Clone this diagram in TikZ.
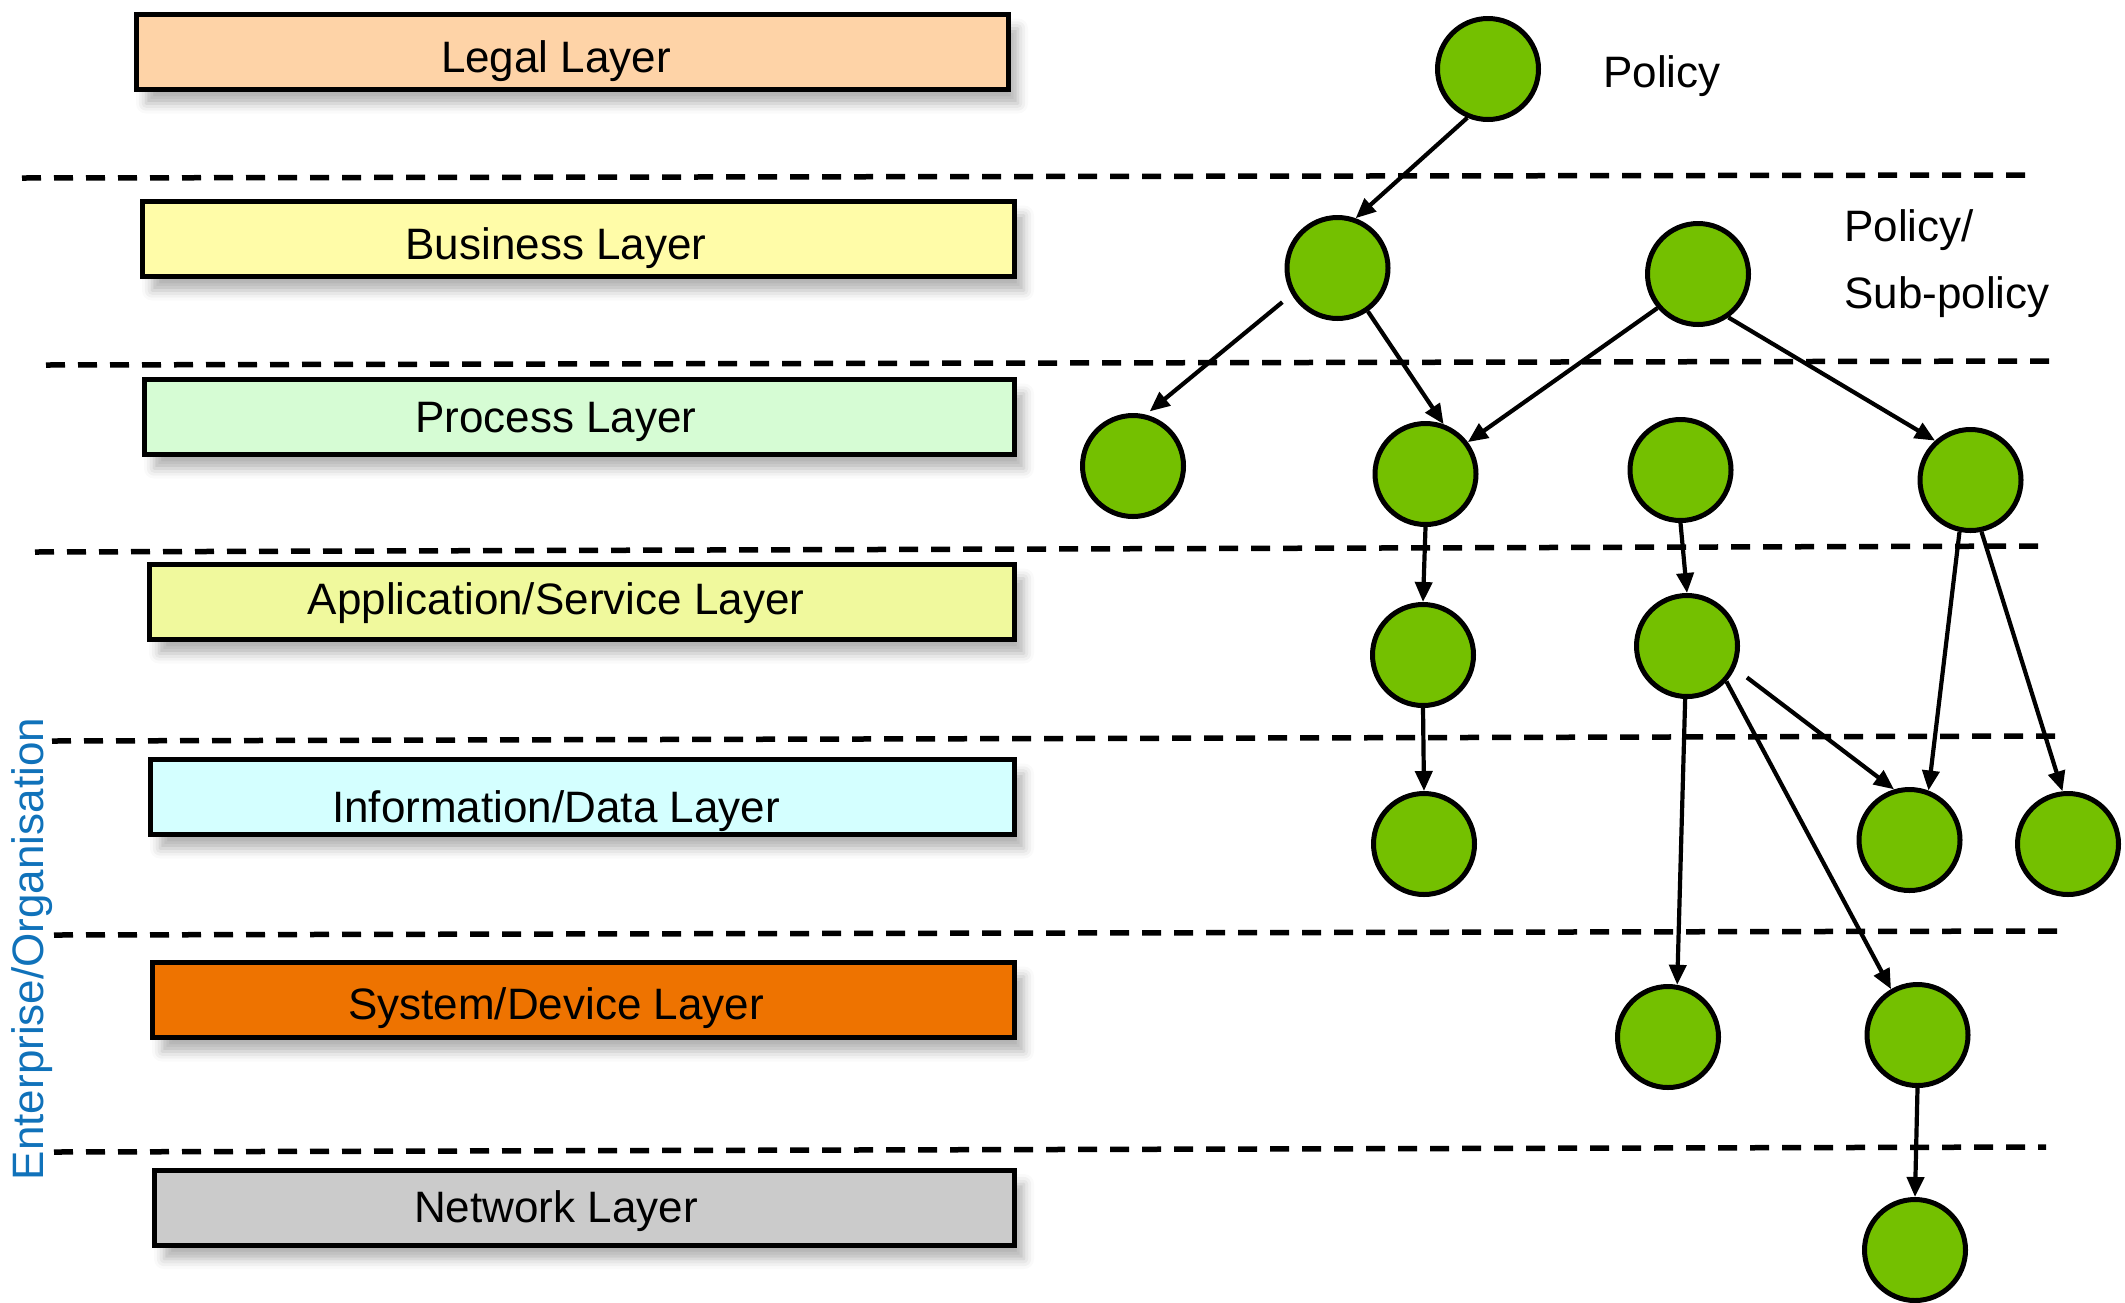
\documentclass[tikz,border=0pt]{standalone}
\usepackage{fontspec}
\setmainfont{Liberation Sans}
\usetikzlibrary{arrows.meta,shadows.blur}

\definecolor{legalfill}{RGB}{254,211,167}
\definecolor{busfill}{RGB}{255,252,168}
\definecolor{procfill}{RGB}{214,252,212}
\definecolor{appfill}{RGB}{240,249,157}
\definecolor{infofill}{RGB}{212,255,255}
\definecolor{sysfill}{RGB}{238,115,0}
\definecolor{netfill}{RGB}{203,203,203}
\definecolor{nodegreen}{RGB}{116,192,0}
\definecolor{orgblue}{RGB}{16,114,186}

\tikzset{
  layerbox/.style={draw=black, line width=5pt, rectangle, minimum height=75pt,
    inner sep=0pt,
    blur shadow={shadow xshift=10pt, shadow yshift=-14pt,
      shadow blur radius=10pt, shadow opacity=30}},
  layertext/.style={anchor=base, inner sep=0pt,
    font=\fontsize{44}{53}\selectfont},
  plabel/.style={anchor=base west, inner sep=0pt,
    font=\fontsize{44}{53}\selectfont},
  pnode/.style={circle, draw=black, line width=5pt, fill=nodegreen,
    minimum size=101pt, inner sep=0pt},
  sep/.style={draw=black, line width=5.5pt, dash pattern=on 19pt off 13pt},
  flow/.style={draw=black, line width=4.2pt,
    -{Triangle[length=20pt,width=17pt]}}
}

\begin{document}
\begin{tikzpicture}[x=1pt,y=-1pt]
\useasboundingbox (0,0) rectangle (2125,1302);

% layer separators
\draw[sep] (22,178) -- (2037,175);
\draw[sep] (46,365) -- (2060,361);
\draw[sep] (35,552) -- (2049,546);
\draw[sep] (52,741) -- (2067,736);
\draw[sep] (54,935) -- (2069,931);
\draw[sep] (54,1152) -- (2046,1147);

% layer boxes
\node[layerbox, fill=legalfill, minimum width=872pt] (legal) at (572,52) {};
\node[layerbox, fill=busfill,   minimum width=872pt] (business) at (578,239) {};
\node[layerbox, fill=procfill,  minimum width=870pt] (process) at (579,417) {};
\node[layerbox, fill=appfill,   minimum width=865pt] (application) at (581.5,602) {};
\node[layerbox, fill=infofill,  minimum width=864pt] (information) at (582,797) {};
\node[layerbox, fill=sysfill,   minimum width=862pt] (system) at (583,1000) {};
\node[layerbox, fill=netfill,   minimum width=860pt] (network) at (584,1207.5) {};

\node[layertext] (legal-t) at (556,72) {Legal Layer};
\node[layertext] (business-t) at (556,259) {Business Layer};
\node[layertext] (process-t) at (556,432) {Process Layer};
\node[layertext] (application-t) at (556,614) {Application/Service Layer};
\node[layertext] (information-t) at (556,822) {Information/Data Layer};
\node[layertext] (system-t) at (556,1019) {System/Device Layer};
\node[layertext] (network-t) at (556,1222) {Network Layer};

% side caption
\node[rotate=90, inner sep=0pt, text=orgblue,
  font=\fontsize{44}{53}\selectfont] (org) at (32,949) {Enterprise/Organisation};

% policy labels
\node[plabel] (policy-l) at (1603,87) {Policy};
\node[plabel] (sub-l1) at (1844,241) {Policy/};
\node[plabel] (sub-l2) at (1844,308) {Sub-policy};

% policy nodes
\node[pnode] (pol) at (1488,69) {};
\node[pnode] (b1) at (1337.5,268) {};
\node[pnode] (b2) at (1698,274) {};
\node[pnode] (p1) at (1133,466) {};
\node[pnode] (p2) at (1425.5,474) {};
\node[pnode] (p3) at (1680.5,470) {};
\node[pnode] (p4) at (1970.5,480) {};
\node[pnode] (a1) at (1423,655) {};
\node[pnode] (a2) at (1687,646) {};
\node[pnode] (i1) at (1424,844) {};
\node[pnode] (i2) at (1909.5,840) {};
\node[pnode] (i3) at (2068,844) {};
\node[pnode] (s1) at (1668,1037) {};
\node[pnode] (s2) at (1917.5,1035) {};
\node[pnode] (n1) at (1915,1250) {};

% refinement arrows
\draw[flow] (pol.247) -- (b1.70);
\draw[flow, shorten <=12pt, shorten >=5pt] (b1.210) -- (p1.76);
\draw[flow] (b1.305) -- (p2.70);
\draw[flow] (b2.220) -- (p2.37);
\draw[flow] (b2.305) -- (p4.132);
\draw[flow] (p2.south) -- (a1.north);
\draw[flow] (p3.south) -- (a2.north);
\draw[flow] (a1.south) -- (i1.north);
\draw[flow] (p4.258) -- (i2.69);
\draw[flow] (p4.282) -- (i3.96);
\draw[flow, shorten <=15pt] (a2.335) -- (i2.107);
\draw[flow] (a2.268) -- (s1.80);
\draw[flow] (a2.318) -- (s2.120);
\draw[flow] (s2.south) -- (n1.north);
\end{tikzpicture}
\end{document}
